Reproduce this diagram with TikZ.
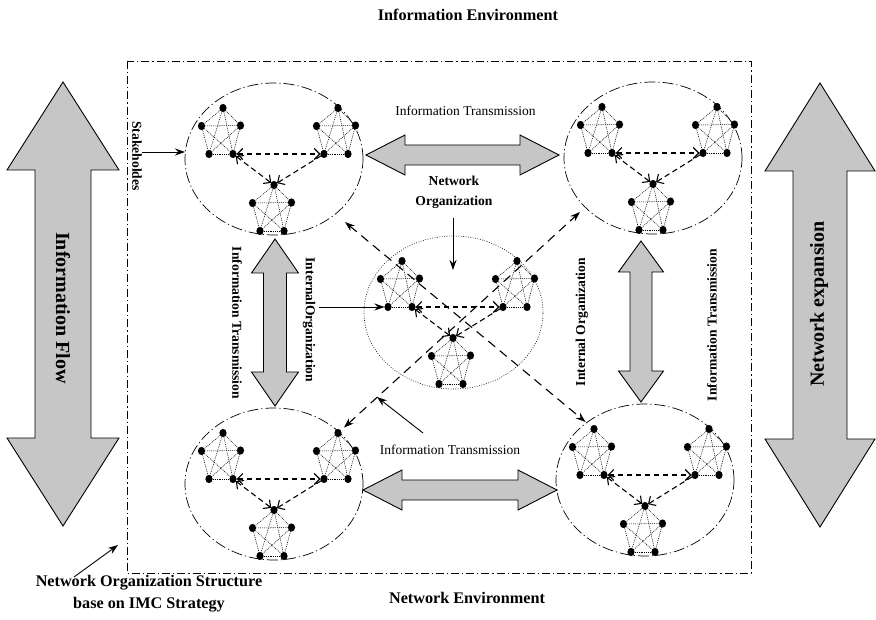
\documentclass[tikz,border=0pt]{standalone}
\usepackage{fontspec}
\setmainfont{Liberation Serif}
\usetikzlibrary{arrows.meta,shapes.geometric}

\definecolor{arrowgray}{RGB}{198,198,198}

\tikzset{
  % five fully linked members of one team
  clique/.pic={
    \coordinate (-t) at (0,0);
    \coordinate (-l) at (-21.5,18);
    \coordinate (-r) at (17.5,17.5);
    \coordinate (-bl) at (-14,46);
    \coordinate (-br) at (10,46);
    \foreach \a/\b in {t/l,t/r,t/bl,t/br,l/r,l/bl,l/br,r/bl,r/br,bl/br}
      \draw[linkline] (-\a) -- (-\b);
    \foreach \a in {t,l,r,bl,br}
      \fill (-\a) ellipse [x radius=3.6, y radius=4.1];
  }
}

% three teams inside one organisation, joined by dashed links
\newcommand\drawgroup[3]{%
  \pic (#1a) at (#2-51,#3-51) {clique};
  \pic (#1b) at (#2+64,#3-51) {clique};
  \pic (#1c) at (#2,#3+26) {clique};
  \draw[innerlink,<->] (#1a-br) -- (#1b-bl);
  \draw[innerlink,<->] (#1a-br) -- (#1c-t);
  \draw[innerlink,->] (#1b-bl) -- (#1c-t);
}

% horizontal double arrow: x1 x2 y headlength shafthalf headhalf
\newcommand\hdouble[6]{%
  \draw[broadarrow] (#1,#3) -- (#1+#4,#3-#6) -- (#1+#4,#3-#5) -- (#2-#4,#3-#5)
    -- (#2-#4,#3-#6) -- (#2,#3) -- (#2-#4,#3+#6) -- (#2-#4,#3+#5)
    -- (#1+#4,#3+#5) -- (#1+#4,#3+#6) -- cycle;}
% vertical double arrow: x y1 y2 headlength shafthalf headhalf
\newcommand\vdouble[6]{%
  \draw[broadarrow] (#1,#2) -- (#1+#6,#2+#4) -- (#1+#5,#2+#4) -- (#1+#5,#3-#4)
    -- (#1+#6,#3-#4) -- (#1,#3) -- (#1-#6,#3-#4) -- (#1-#5,#3-#4)
    -- (#1-#5,#2+#4) -- (#1-#6,#2+#4) -- cycle;}

\begin{document}
\begin{tikzpicture}[x=1pt,y=-1pt,
  every node/.style={inner sep=0pt,outer sep=0pt},
  frameline/.style={line width=0.7pt, dash pattern=on 8pt off 3pt on 1.2pt off 3pt},
  groupshape/.style={ellipse, draw, line width=0.7pt,
    dash pattern=on 11pt off 3pt on 1.2pt off 3pt, minimum width=178pt, minimum height=152pt},
  coreshape/.style={ellipse, draw, line width=0.6pt,
    dash pattern=on 0.8pt off 1.6pt, minimum width=179pt, minimum height=153pt},
  linkline/.style={line width=0.55pt, dash pattern=on 0.9pt off 1pt},
  innerlink/.style={line width=1.1pt, dash pattern=on 5.5pt off 3.5pt,
    >={Straight Barb[length=5.5pt,width=11pt,line width=1.1pt]},
    shorten <=3.5pt, shorten >=3.5pt},
  crosslink/.style={line width=1.1pt, dash pattern=on 9pt off 6pt,
    >={Stealth[length=10pt,width=7pt]}},
  solidarrow/.style={line width=0.9pt, -{Stealth[length=10pt,width=7pt]}},
  broadarrow/.style={draw, line width=0.9pt, fill=arrowgray},
  envlabel/.style={font=\fontsize{16.2}{22}\selectfont\bfseries},
  translabel/.style={font=\fontsize{13.5}{16}\selectfont},
  sidelabel/.style={font=\fontsize{13.6}{20}\selectfont\bfseries},
  biglabel/.style={font=\fontsize{20}{24}\selectfont\bfseries},
]
\useasboundingbox (0,0) rectangle (876,620);

% outer boundary of the network organisation
\draw[frameline] (127,61) rectangle (751,573);

% organisations
\node[groupshape] (tlg) at (274,159) {};
\node[groupshape] (trg) at (653,158) {};
\node[groupshape] (blg) at (274,484) {};
\node[groupshape] (brg) at (645,480) {};
\node[coreshape] (cg) at (453.5,312.5) {};

\drawgroup{tl}{274}{159}
\drawgroup{tr}{653}{158}
\drawgroup{bl}{274}{484}
\drawgroup{br}{645}{480}
\drawgroup{c}{453}{312}

% information transmission between organisations
\hdouble{366}{559}{155}{39}{10}{20}
\hdouble{363}{557}{490}{39}{10}{20}
\vdouble{275}{239}{406}{34}{11.5}{23.5}
\vdouble{641}{241}{402}{31}{11}{22.5}

% information flow and network expansion
\vdouble{63}{82}{526}{88}{28}{56}
\vdouble{820}{83}{527}{88}{27}{55}

% labels
\node[envlabel] (infoenv) at (468,15) {Information Environment};
\node[envlabel] (netenv) at (467,598) {Network Environment};
\node[envlabel, align=center] (imc) at (149,594)
  {Network Organization Structure\\base on IMC Strategy};
\node[translabel] (ittop) at (465.5,111) {Information Transmission};
\node[translabel] (itbot) at (450,450) {Information Transmission};
\node[sidelabel, align=center] (netorg) at (454,192) {Network\\Organization};
\node[sidelabel, rotate=-90] (stake) at (137,156) {Stakeholdes};
\node[sidelabel, rotate=-90] (itl) at (237,323) {Information Transmission};
\node[sidelabel, rotate=-90] (iol) at (309,320) {InternalOrganization};
\node[sidelabel, rotate=90] (ior) at (582,322) {Internal Organization};
\node[sidelabel, rotate=90] (itr) at (712,325) {Information Transmission};
\node[biglabel, rotate=-90] (flow) at (63,308) {Information Flow};
\node[biglabel, rotate=90] (expand) at (819,304) {Network expansion};

% cross links through the core organisation
\coordinate (xlu) at (345,222);
\coordinate (xru) at (580,212);
\draw[crosslink,<->, shorten >=11pt] (xlu) -- (bra-t);
\draw[crosslink,<->, shorten <=8pt] (blb-t) -- (xru);

% solid pointers
\coordinate (stakefrom) at (142,152);
\draw[solidarrow] (stakefrom) -- (stakefrom -| tlg.west);
\coordinate (netorgfrom) at (453,218);
\coordinate (netorgto) at (453,270);
\draw[solidarrow] (netorgfrom) -- (netorgto);
\coordinate (iolfrom) at (319,307);
\draw[solidarrow, shorten >=3.5pt] (iolfrom) -- (ca-bl);
\coordinate (itbfrom) at (423,433);
\coordinate (itbto) at (377,397);
\draw[solidarrow] (itbfrom) -- (itbto);
\coordinate (imcfrom) at (74,577);
\coordinate (imcto) at (118,545);
\draw[solidarrow] (imcfrom) -- (imcto);
\end{tikzpicture}
\end{document}
